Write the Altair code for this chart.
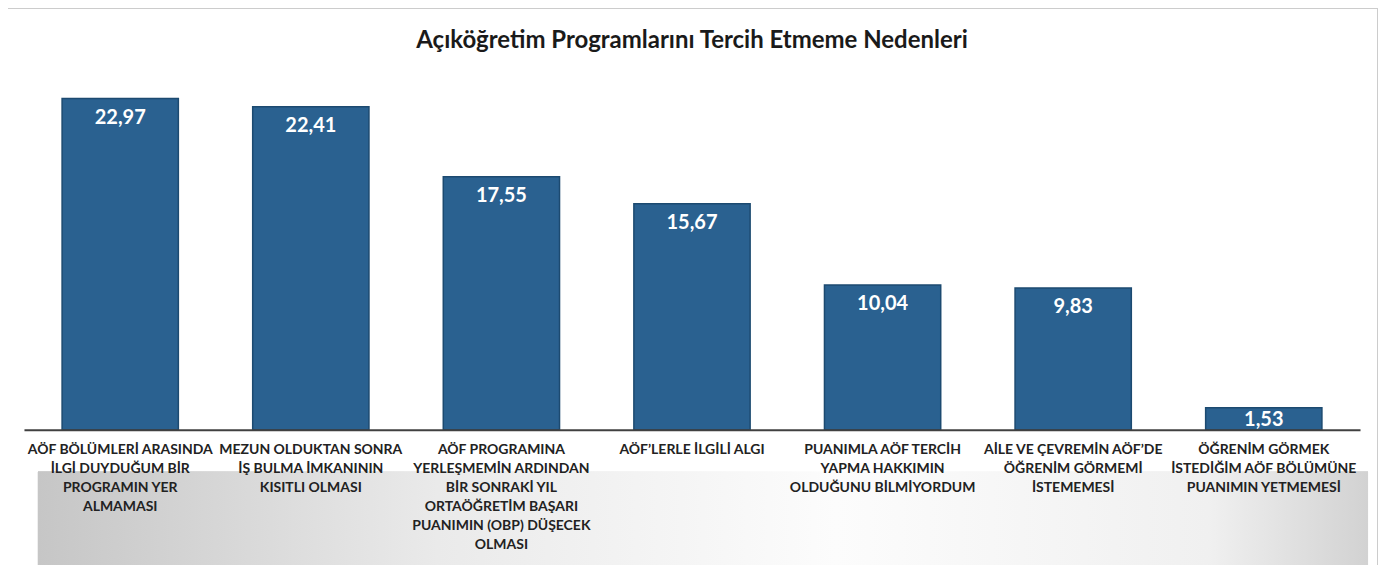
import altair as alt
import pandas as pd

categories = [
    "AÖF BÖLÜMLERİ ARASINDA|İLGİ DUYDUĞUM BİR|PROGRAMIN YER|ALMAMASI",
    "MEZUN OLDUKTAN SONRA|İŞ BULMA İMKANININ|KISITLI OLMASI",
    "AÖF PROGRAMINA|YERLEŞMEMİN ARDINDAN|BİR SONRAKİ YIL|ORTAÖĞRETİM BAŞARI|PUANIMIN  (OBP) DÜŞECEK|OLMASI",
    "AÖF’LERLE İLGİLİ  ALGI",
    "PUANIMLA AÖF TERCİH|YAPMA HAKKIMIN|OLDUĞUNU BİLMİYORDUM",
    "AİLE VE ÇEVREMİN AÖF’DE|ÖĞRENİM GÖRMEMİ|İSTEMEMESİ",
    "ÖĞRENİM GÖRMEK|İSTEDİĞİM AÖF BÖLÜMÜNE|PUANIMIN YETMEMESİ",
]
values = [22.97, 22.41, 17.55, 15.67, 10.04, 9.83, 1.53]
value_labels = ["22,97", "22,41", "17,55", "15,67", "10,04", "9,83", "1,53"]

df = pd.DataFrame({"cat": categories, "val": values, "lbl": value_labels})

FONT = "Lato"
W, H = 1338, 361

x_enc = alt.X(
    "cat:N",
    sort=categories,
    title=None,
    scale=alt.Scale(paddingInner=0.39, paddingOuter=0.2),
    axis=alt.Axis(
        labelExpr="split(datum.label, '|')",
        labelAngle=0,
        labelFont=FONT,
        labelFontSize=14,
        labelFontWeight="bold",
        labelColor="#222222",
        labelLimit=320,
        labelLineHeight=19,
        labelPadding=13,
        labelBaseline="top",
        ticks=False,
        domainColor="#404040",
        domainWidth=2,
        zindex=2,
    ),
)
y_scale = alt.Scale(domain=[0, 25], nice=False, zero=True)
y_enc = alt.Y("val:Q", scale=y_scale, axis=None)
x_plain = alt.X("cat:N", sort=categories)

# decorative background (gradient swoosh behind the labels) and chart border
swoosh = alt.Chart(df).mark_rect(
    fill=alt.Gradient(
        gradient="linear",
        x1=0, x2=1, y1=0, y2=0,
        stops=[
            alt.GradientStop(offset=0, color="#c6c6c6"),
            alt.GradientStop(offset=0.3, color="#eaeaea"),
            alt.GradientStop(offset=0.6, color="#fcfcfc"),
            alt.GradientStop(offset=0.88, color="#f0f0f0"),
            alt.GradientStop(offset=1, color="#d2d2d2"),
        ],
    ),
).encode(x=alt.value(14), x2=alt.value(W + 8), y=alt.value(H + 42), y2=alt.value(H + 140))

border = alt.Chart(df).mark_rect(
    fill="transparent", stroke="#cccccc", strokeWidth=2
).encode(x=alt.value(-17), x2=alt.value(W + 18), y=alt.value(-62), y2=alt.value(H + 140))

bars = alt.Chart(df).mark_bar(
    color="#2a6190", stroke="#1c4a70", strokeWidth=1.5
).encode(x=x_enc, y=y_enc)

texts_big = alt.Chart(df).transform_filter("datum.val > 5").mark_text(
    font=FONT, fontSize=20, fontWeight="bold", color="white", baseline="middle", dy=19
).encode(x=x_plain, y=alt.Y("val:Q", scale=y_scale), text="lbl:N")

texts_small = alt.Chart(df).transform_filter("datum.val <= 5").mark_text(
    font=FONT, fontSize=20, fontWeight="bold", color="white", baseline="middle", dy=12
).encode(x=x_plain, y=alt.Y("val:Q", scale=y_scale), text="lbl:N")

chart = (
    alt.layer(swoosh, border, bars, texts_big, texts_small)
    .properties(
        width=W,
        height=H,
        title=alt.TitleParams(
            text="Açıköğretim Programlarını Tercih Etmeme Nedenleri",
            font=FONT,
            fontSize=24,
            fontWeight="bold",
            color="#1a1a1a",
            anchor="middle",
            frame="group",
            offset=0,
            dy=47,
        ),
        view=alt.ViewBackground(stroke="transparent", strokeWidth=0),
        autosize=alt.AutoSizeParams(type="none"),
        padding={"left": 16, "top": 61, "right": 18, "bottom": 135},
    )
    .configure_view(strokeWidth=0, stroke="transparent")
    .configure(background="white")
)

chart.save("out.html", embed_options={"renderer": "svg", "actions": False})
